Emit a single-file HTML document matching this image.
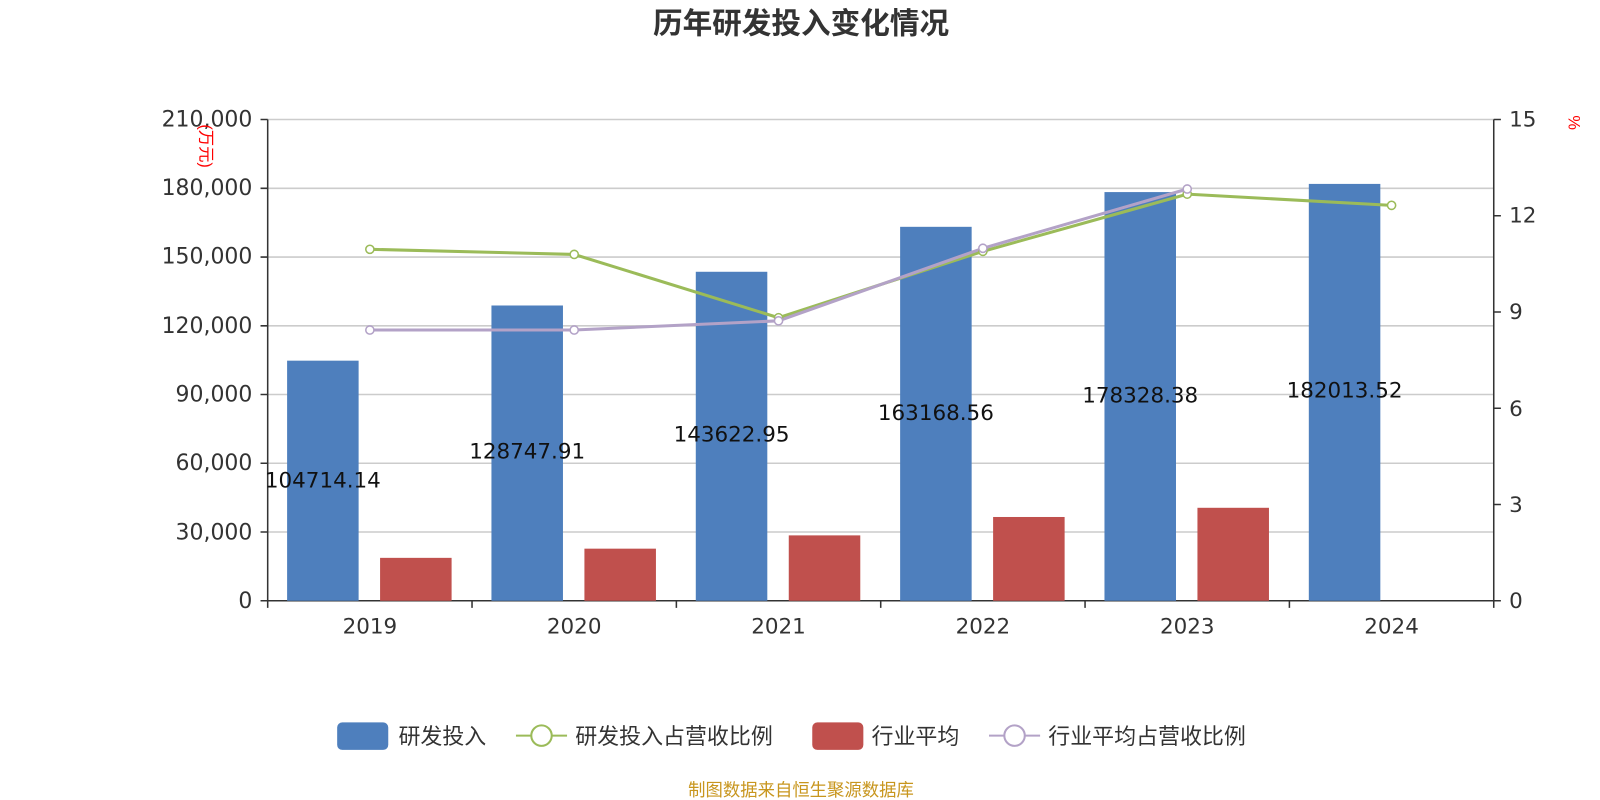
<!DOCTYPE html><html><head><meta charset="utf-8"><style>body{margin:0;background:#fff}svg{display:block}text{font-family:"Liberation Sans","Noto Sans CJK SC",sans-serif}.d text{font-family:"DejaVu Sans","Noto Sans CJK SC",sans-serif}</style></head><body>
<svg width="1600" height="800" viewBox="0 0 1566 783" xmlns="http://www.w3.org/2000/svg">
<text x="784" y="33" text-anchor="middle" font-size="29" font-weight="bold" fill="#333">历年研发投入变化情况</text>
<g stroke="#ccc" stroke-width="1.5">
<line x1="262" x2="1462" y1="117" y2="117"/><line x1="262" x2="1462" y1="184.3" y2="184.3"/><line x1="262" x2="1462" y1="251.6" y2="251.6"/><line x1="262" x2="1462" y1="318.9" y2="318.9"/><line x1="262" x2="1462" y1="386.1" y2="386.1"/><line x1="262" x2="1462" y1="453.4" y2="453.4"/><line x1="262" x2="1462" y1="520.7" y2="520.7"/></g>
<g stroke="#333" stroke-width="1.5"><line x1="262" x2="262" y1="117" y2="588"/><line x1="1462" x2="1462" y1="117" y2="588"/><line x1="262" x2="1462" y1="588" y2="588"/>
<path d="M255 117h7M255 184.3h7M255 251.6h7M255 318.9h7M255 386.1h7M255 453.4h7M255 520.7h7M255 588h7"/>
<path d="M1462 117h7M1462 211.2h7M1462 305.4h7M1462 399.6h7M1462 493.8h7M1462 588h7"/>
<path d="M262 588v7M462 588v7M662 588v7M862 588v7M1062 588v7M1262 588v7M1462 588v7"/></g>
<g class="d" font-size="21.5" fill="#333" text-anchor="end"><text x="247" y="124">210,000</text><text x="247" y="191">180,000</text><text x="247" y="258">150,000</text><text x="247" y="326">120,000</text><text x="247" y="393">90,000</text><text x="247" y="460">60,000</text><text x="247" y="528">30,000</text><text x="247" y="595">0</text></g>
<g class="d" font-size="21" fill="#333"><text x="1477" y="124">15</text><text x="1477" y="218">12</text><text x="1477" y="312">9</text><text x="1477" y="407">6</text><text x="1477" y="501">3</text><text x="1477" y="595">0</text></g>
<g class="d" font-size="21" fill="#333" text-anchor="middle"><text x="362" y="620">2019</text><text x="562" y="620">2020</text><text x="762" y="620">2021</text><text x="962" y="620">2022</text><text x="1162" y="620">2023</text><text x="1362" y="620">2024</text></g>
<text transform="translate(196,143) rotate(90)" font-size="16" fill="red" text-anchor="middle">(万元)</text>
<text transform="translate(1535,120) rotate(90)" font-size="16" fill="red" text-anchor="middle">%</text>
<g fill="#4e7fbd"><rect x="281" y="353" width="70" height="235"/><rect x="481" y="299" width="70" height="289"/><rect x="681" y="266" width="70" height="322"/><rect x="881" y="222" width="70" height="366"/><rect x="1081" y="188" width="70" height="400"/><rect x="1281" y="180" width="70" height="408"/></g>
<g fill="#c0504d"><rect x="372" y="546" width="70" height="42"/><rect x="572" y="537" width="70" height="51"/><rect x="772" y="524" width="70" height="64"/><rect x="972" y="506" width="70" height="82"/><rect x="1172" y="497" width="70" height="91"/></g>
<g class="d" font-size="21" fill="#111" text-anchor="middle"><text x="316" y="477">104714.14</text><text x="516" y="449">128747.91</text><text x="716" y="432">143622.95</text><text x="916" y="411">163168.56</text><text x="1116" y="394">178328.38</text><text x="1316" y="389">182013.52</text></g>
<polyline points="362,244 562,249 762,311 962,246 1162,190 1362,201" fill="none" stroke="#9bbb59" stroke-width="3"/>
<polyline points="362,323 562,323 762,314 962,243 1162,185" fill="none" stroke="#b3a2c7" stroke-width="3"/>
<g fill="#fff" stroke="#9bbb59" stroke-width="1.5"><circle cx="362" cy="244" r="4"/><circle cx="562" cy="249" r="4"/><circle cx="762" cy="311" r="4"/><circle cx="962" cy="246" r="4"/><circle cx="1162" cy="190" r="4"/><circle cx="1362" cy="201" r="4"/></g>
<g fill="#fff" stroke="#b3a2c7" stroke-width="1.5"><circle cx="362" cy="323" r="4"/><circle cx="562" cy="323" r="4"/><circle cx="762" cy="314" r="4"/><circle cx="962" cy="243" r="4"/><circle cx="1162" cy="185" r="4"/></g>
<g font-size="21.5" fill="#333">
<rect x="330" y="707" width="50" height="27" rx="5" fill="#4e7fbd"/><text x="390" y="728">研发投入</text>
<line x1="505" x2="555" y1="720" y2="720" stroke="#9bbb59" stroke-width="2"/><circle cx="530" cy="720" r="10" fill="#fff" stroke="#9bbb59" stroke-width="2"/><text x="563" y="728">研发投入占营收比例</text>
<rect x="795" y="707" width="50" height="27" rx="5" fill="#c0504d"/><text x="853" y="728">行业平均</text>
<line x1="968" x2="1018" y1="720" y2="720" stroke="#b3a2c7" stroke-width="2"/><circle cx="993" cy="720" r="10" fill="#fff" stroke="#b3a2c7" stroke-width="2"/><text x="1026" y="728">行业平均占营收比例</text></g>
<text x="784" y="779" font-size="17" fill="#c8961e" text-anchor="middle">制图数据来自恒生聚源数据库</text>
</svg></body></html>
